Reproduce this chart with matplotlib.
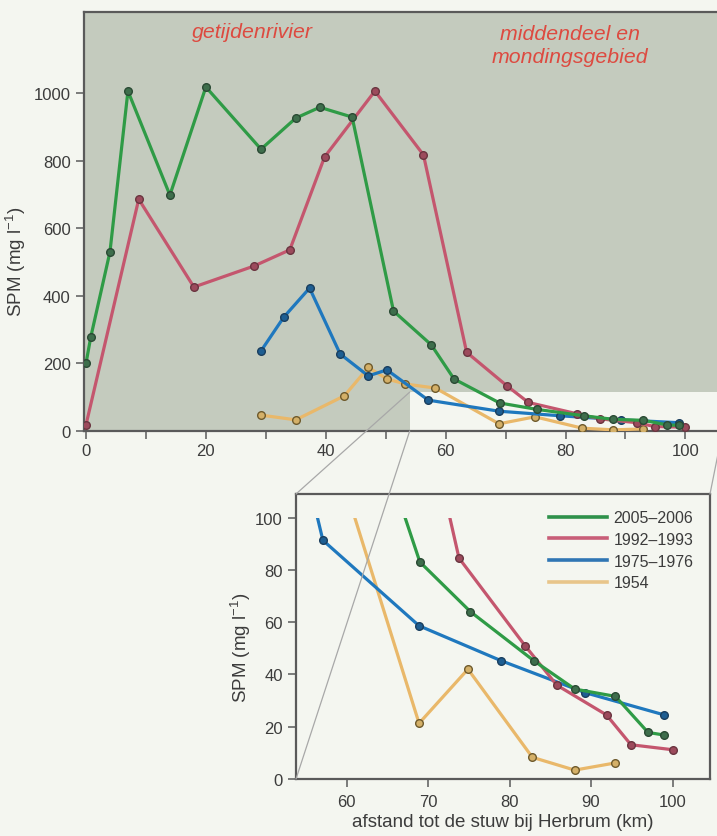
import matplotlib
matplotlib.use("Agg")
import matplotlib.pyplot as plt
from matplotlib.patches import Rectangle, ConnectionPatch
from matplotlib.lines import Line2D

plt.rcParams['font.family'] = ['Liberation Sans', 'DejaVu Sans']
plt.rcParams['mathtext.fontset'] = 'custom'
plt.rcParams['mathtext.rm'] = 'Liberation Sans'
plt.rcParams['mathtext.default'] = 'regular'

# ---------------- data ----------------
labels = ["2005\u20132006", "1992\u20131993", "1975\u20131976", "1954"]

green_x = [0, 0.8, 4, 7, 14, 20, 29.2, 35, 39, 44.4, 51.3, 57.6, 61.4, 69, 75.2, 83, 88, 93, 97, 99]
green_y = [200, 278, 530, 1006, 698, 1018, 834, 926, 958, 929, 355, 255, 154, 83, 64, 45.2, 34.4, 31.6, 17.8, 16.8]

red_x = [0, 8.8, 18, 28, 34, 39.8, 48.2, 56.3, 63.5, 70.2, 73.8, 81.9, 85.8, 91.9, 94.9, 100]
red_y = [18, 686, 426, 488, 536, 811, 1006, 817, 233, 134, 84.5, 51, 35.9, 24.5, 13.1, 11.2]

blue_x = [29.2, 33, 37.3, 42.4, 47.1, 50.2, 57.1, 68.9, 79, 89.3, 99]
blue_y = [237, 337, 423, 228, 163, 181, 91.3, 58.6, 45.2, 33, 24.5]

yellow_x = [29.2, 35, 43.1, 47.1, 50.2, 53.3, 58.3, 68.9, 74.9, 82.8, 88, 92.9]
yellow_y = [47, 33, 104, 188, 154, 139, 127, 21.3, 42, 8.3, 3.4, 6.1]

main_xticks = [0, 20, 40, 60, 80, 100]
main_xminor = [10, 30, 50, 70, 90]
main_yticks = [0, 200, 400, 600, 800, 1000]
inset_xticks = [60, 70, 80, 90, 100]
inset_yticks = [0, 20, 40, 60, 80, 100]
zoom_box = (54, 0, 115)   # x start, y start, y end of the zoomed region
inset_clip_top = 100

# ---------------- styles ----------------
series = [
    (yellow_x, yellow_y, '#E9B86A', '#D4B068', '#6E5A2C', labels[3], '#E8C58A'),
    (blue_x, blue_y, '#1F78BE', '#1E5E92', '#1A3E5E', labels[2], '#2F76B4'),
    (red_x, red_y, '#C4566E', '#9C4A5C', '#6A3540', labels[1], '#C85E78'),
    (green_x, green_y, '#2F9B46', '#3E6E4C', '#2A4A34', labels[0], '#2E914A'),
]

bg = '#F4F6F0'
txt = '#3C3C3C'
spine_c = '#5A5A5A'

fig = plt.figure(figsize=(7.17, 8.37), dpi=100, facecolor=bg)

W, H = 717.0, 837.0
ax = fig.add_axes([84 / W, 1 - 432 / H, (722 - 84) / W, (432 - 13) / H])
ax.set_facecolor('#C4CBBE')
ax.set_xlim(-0.33, 106.1)
ax.set_ylim(0, 1240)

ax.add_patch(Rectangle((zoom_box[0], zoom_box[1]), 60, zoom_box[2] - zoom_box[1],
                       facecolor=bg, edgecolor='none', zorder=1))

for xs, ys, lc, mfc, mec, lab, legc in series:
    ax.plot(xs, ys, color=lc, lw=2.3, marker='o', ms=5.5, mfc=mfc, mec=mec,
            mew=1.0, zorder=3, solid_joinstyle='round')

ax.set_xticks(main_xticks)
ax.set_xticks(main_xminor, minor=True)
ax.set_yticks(main_yticks)
ax.tick_params(axis='both', which='both', direction='out', length=6, width=1.1,
               color=spine_c, labelcolor=txt, labelsize=12)
ax.tick_params(axis='x', which='major', pad=3)
for s in ax.spines.values():
    s.set_color(spine_c)
    s.set_linewidth(1.6)
ax.spines['right'].set_visible(False)
ax.set_ylabel('SPM (mg l$^{-1}$)', fontsize=13.5, color=txt)
ax.yaxis.set_label_coords(-0.087, 0.406)

ax.text(27.7, 1182, 'getijdenrivier', style='italic', color='#DD4A40',
        fontsize=15.3, ha='center', va='center', zorder=4)
ax.text(80.8, 1142, 'middendeel en\nmondingsgebied', style='italic', color='#DD4A40',
        fontsize=15.3, ha='center', va='center', linespacing=1.25, zorder=4)

# ---------------- inset ----------------
ax2 = fig.add_axes([296 / W, 1 - 780 / H, (710 - 296) / W, (780 - 495) / H])
ax2.set_facecolor(bg)
ax2.set_xlim(53.8, 104.6)
ax2.set_ylim(0, 109)

clip = Rectangle((50, -5), 60, inset_clip_top + 5, transform=ax2.transData,
                 facecolor='none', edgecolor='none')
ax2.add_patch(clip)
for xs, ys, lc, mfc, mec, lab, legc in series:
    ln, = ax2.plot(xs, ys, color=lc, lw=2.3, marker='o', ms=5.5, mfc=mfc, mec=mec,
                   mew=1.0, zorder=3, solid_joinstyle='round')
    ln.set_clip_path(clip)

ax2.set_xticks(inset_xticks)
ax2.set_yticks(inset_yticks)
ax2.tick_params(axis='both', direction='out', length=6, width=1.1,
                color=spine_c, labelcolor=txt, labelsize=12)
ax2.tick_params(axis='x', pad=5)
for s in ax2.spines.values():
    s.set_color(spine_c)
    s.set_linewidth(1.6)
ax2.set_ylabel('SPM (mg l$^{-1}$)', fontsize=13.5, color=txt)
ax2.yaxis.set_label_coords(-0.105, 0.463)
ax2.set_xlabel('afstand tot de stuw bij Herbrum (km)', fontsize=13.5, color=txt, labelpad=3)

handles = [Line2D([], [], color=s[6], lw=2.6) for s in series[::-1]]
leg = ax2.legend(handles, [s[5] for s in series[::-1]], loc='upper right',
                 frameon=False, fontsize=11.5, handlelength=3.6, handletextpad=0.4,
                 labelspacing=0.42, borderaxespad=0.0, bbox_to_anchor=(0.975, 0.965))
for t in leg.get_texts():
    t.set_color(txt)

# connector lines
for (xa, ya), (xb, yb) in [((zoom_box[0], zoom_box[2]), (53.8, 109)),
                           ((zoom_box[0], zoom_box[1]), (53.8, 0)),
                           ((107.5, zoom_box[2]), (104.6, 109))]:
    cp = ConnectionPatch(xyA=(xa, ya), coordsA=ax.transData,
                         xyB=(xb, yb), coordsB=ax2.transData,
                         color='#A8A8A8', lw=0.9, zorder=2)
    fig.add_artist(cp)

fig.savefig('out.png', dpi=100, facecolor=bg)
